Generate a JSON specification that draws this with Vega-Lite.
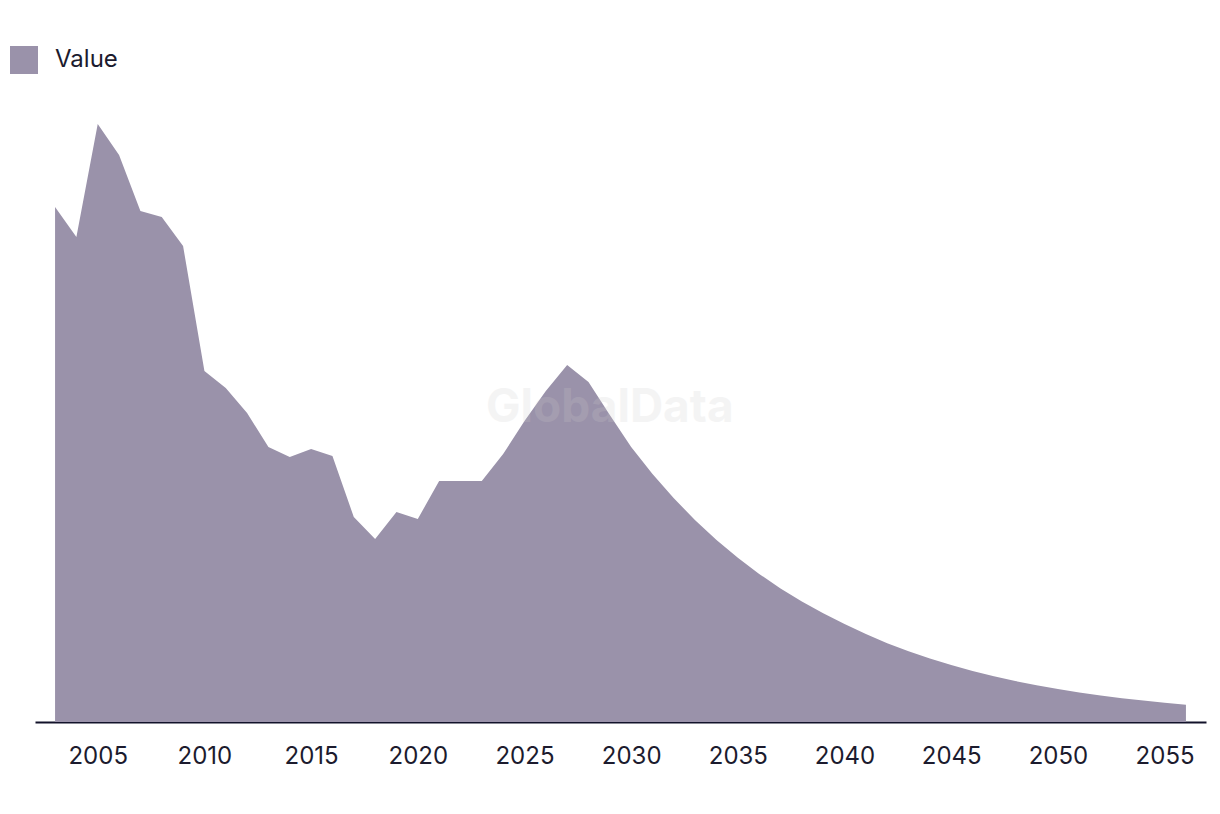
{
  "$schema": "https://vega.github.io/schema/vega-lite/v6.json",
  "width": 1171,
  "height": 622,
  "autosize": {"type": "none"},
  "padding": {"left": 35, "top": 100, "right": 14, "bottom": 92},
  "background": "#ffffff",
  "config": {
    "view": {"stroke": null},
    "font": "Inter"
  },
  "layer": [
    {
      "data": {
        "values": [
          {"year": 2003, "value": 515, "series": "Value"},
          {"year": 2004, "value": 485, "series": "Value"},
          {"year": 2005, "value": 598, "series": "Value"},
          {"year": 2006, "value": 567, "series": "Value"},
          {"year": 2007, "value": 511, "series": "Value"},
          {"year": 2008, "value": 505, "series": "Value"},
          {"year": 2009, "value": 476, "series": "Value"},
          {"year": 2010, "value": 351, "series": "Value"},
          {"year": 2011, "value": 334, "series": "Value"},
          {"year": 2012, "value": 309, "series": "Value"},
          {"year": 2013, "value": 275, "series": "Value"},
          {"year": 2014, "value": 265, "series": "Value"},
          {"year": 2015, "value": 273, "series": "Value"},
          {"year": 2016, "value": 266, "series": "Value"},
          {"year": 2017, "value": 205, "series": "Value"},
          {"year": 2018, "value": 183, "series": "Value"},
          {"year": 2019, "value": 210, "series": "Value"},
          {"year": 2020, "value": 203, "series": "Value"},
          {"year": 2021, "value": 241, "series": "Value"},
          {"year": 2022, "value": 241, "series": "Value"},
          {"year": 2023, "value": 241, "series": "Value"},
          {"year": 2024, "value": 268, "series": "Value"},
          {"year": 2025, "value": 301, "series": "Value"},
          {"year": 2026, "value": 331, "series": "Value"},
          {"year": 2027, "value": 357, "series": "Value"},
          {"year": 2028, "value": 340, "series": "Value"},
          {"year": 2029, "value": 307, "series": "Value"},
          {"year": 2030, "value": 275, "series": "Value"},
          {"year": 2031, "value": 248.1, "series": "Value"},
          {"year": 2032, "value": 223.7, "series": "Value"},
          {"year": 2033, "value": 201.8, "series": "Value"},
          {"year": 2034, "value": 182.0, "series": "Value"},
          {"year": 2035, "value": 164.2, "series": "Value"},
          {"year": 2036, "value": 148.1, "series": "Value"},
          {"year": 2037, "value": 133.6, "series": "Value"},
          {"year": 2038, "value": 120.5, "series": "Value"},
          {"year": 2039, "value": 108.7, "series": "Value"},
          {"year": 2040, "value": 98.0, "series": "Value"},
          {"year": 2041, "value": 87.9, "series": "Value"},
          {"year": 2042, "value": 78.8, "series": "Value"},
          {"year": 2043, "value": 70.7, "series": "Value"},
          {"year": 2044, "value": 63.4, "series": "Value"},
          {"year": 2045, "value": 56.9, "series": "Value"},
          {"year": 2046, "value": 51.0, "series": "Value"},
          {"year": 2047, "value": 45.8, "series": "Value"},
          {"year": 2048, "value": 41.0, "series": "Value"},
          {"year": 2049, "value": 36.8, "series": "Value"},
          {"year": 2050, "value": 33.0, "series": "Value"},
          {"year": 2051, "value": 29.6, "series": "Value"},
          {"year": 2052, "value": 26.6, "series": "Value"},
          {"year": 2053, "value": 23.8, "series": "Value"},
          {"year": 2054, "value": 21.4, "series": "Value"},
          {"year": 2055, "value": 19.2, "series": "Value"},
          {"year": 2056, "value": 17.2, "series": "Value"}
        ]
      },
      "mark": {"type": "area", "opacity": 1, "interpolate": "linear"},
      "encoding": {
        "x": {
          "field": "year",
          "type": "quantitative",
          "scale": {"domain": [2002.06, 2056.94], "nice": false, "zero": false},
          "axis": {
            "title": null,
            "values": [2005, 2010, 2015, 2020, 2025, 2030, 2035, 2040, 2045, 2050, 2055],
            "format": "d",
            "grid": false,
            "ticks": false,
            "labelPadding": 22,
            "labelFontSize": 24,
            "labelColor": "#1c1b2e",
            "labelFont": "Inter",
            "domainColor": "#12122a",
            "domainWidth": 2,
            "labelFlush": false,
            "labelOverlap": false
          }
        },
        "y": {
          "field": "value",
          "type": "quantitative",
          "scale": {"domain": [0, 622], "nice": false},
          "axis": null
        },
        "color": {
          "field": "series",
          "type": "nominal",
          "scale": {"range": ["#9a92aa"]},
          "legend": {
            "title": null,
            "orient": "none",
            "legendX": -25,
            "legendY": -54,
            "padding": 0,
            "symbolType": "square",
            "symbolSize": 784,
            "symbolStrokeWidth": 0,
            "symbolOpacity": 1,
            "labelFontSize": 24,
            "labelFont": "Inter",
            "labelColor": "#1c1b2e",
            "labelOffset": 17
          }
        }
      }
    },
    {
      "data": {"values": [{"label": "GlobalData"}]},
      "mark": {
        "type": "text",
        "font": "Inter",
        "fontWeight": "bold",
        "fontSize": 46,
        "color": "#cccccc",
        "opacity": 0.2,
        "align": "center",
        "baseline": "middle"
      },
      "encoding": {
        "x": {"datum": 2029},
        "y": {"datum": 314},
        "text": {"field": "label"}
      }
    }
  ]
}
